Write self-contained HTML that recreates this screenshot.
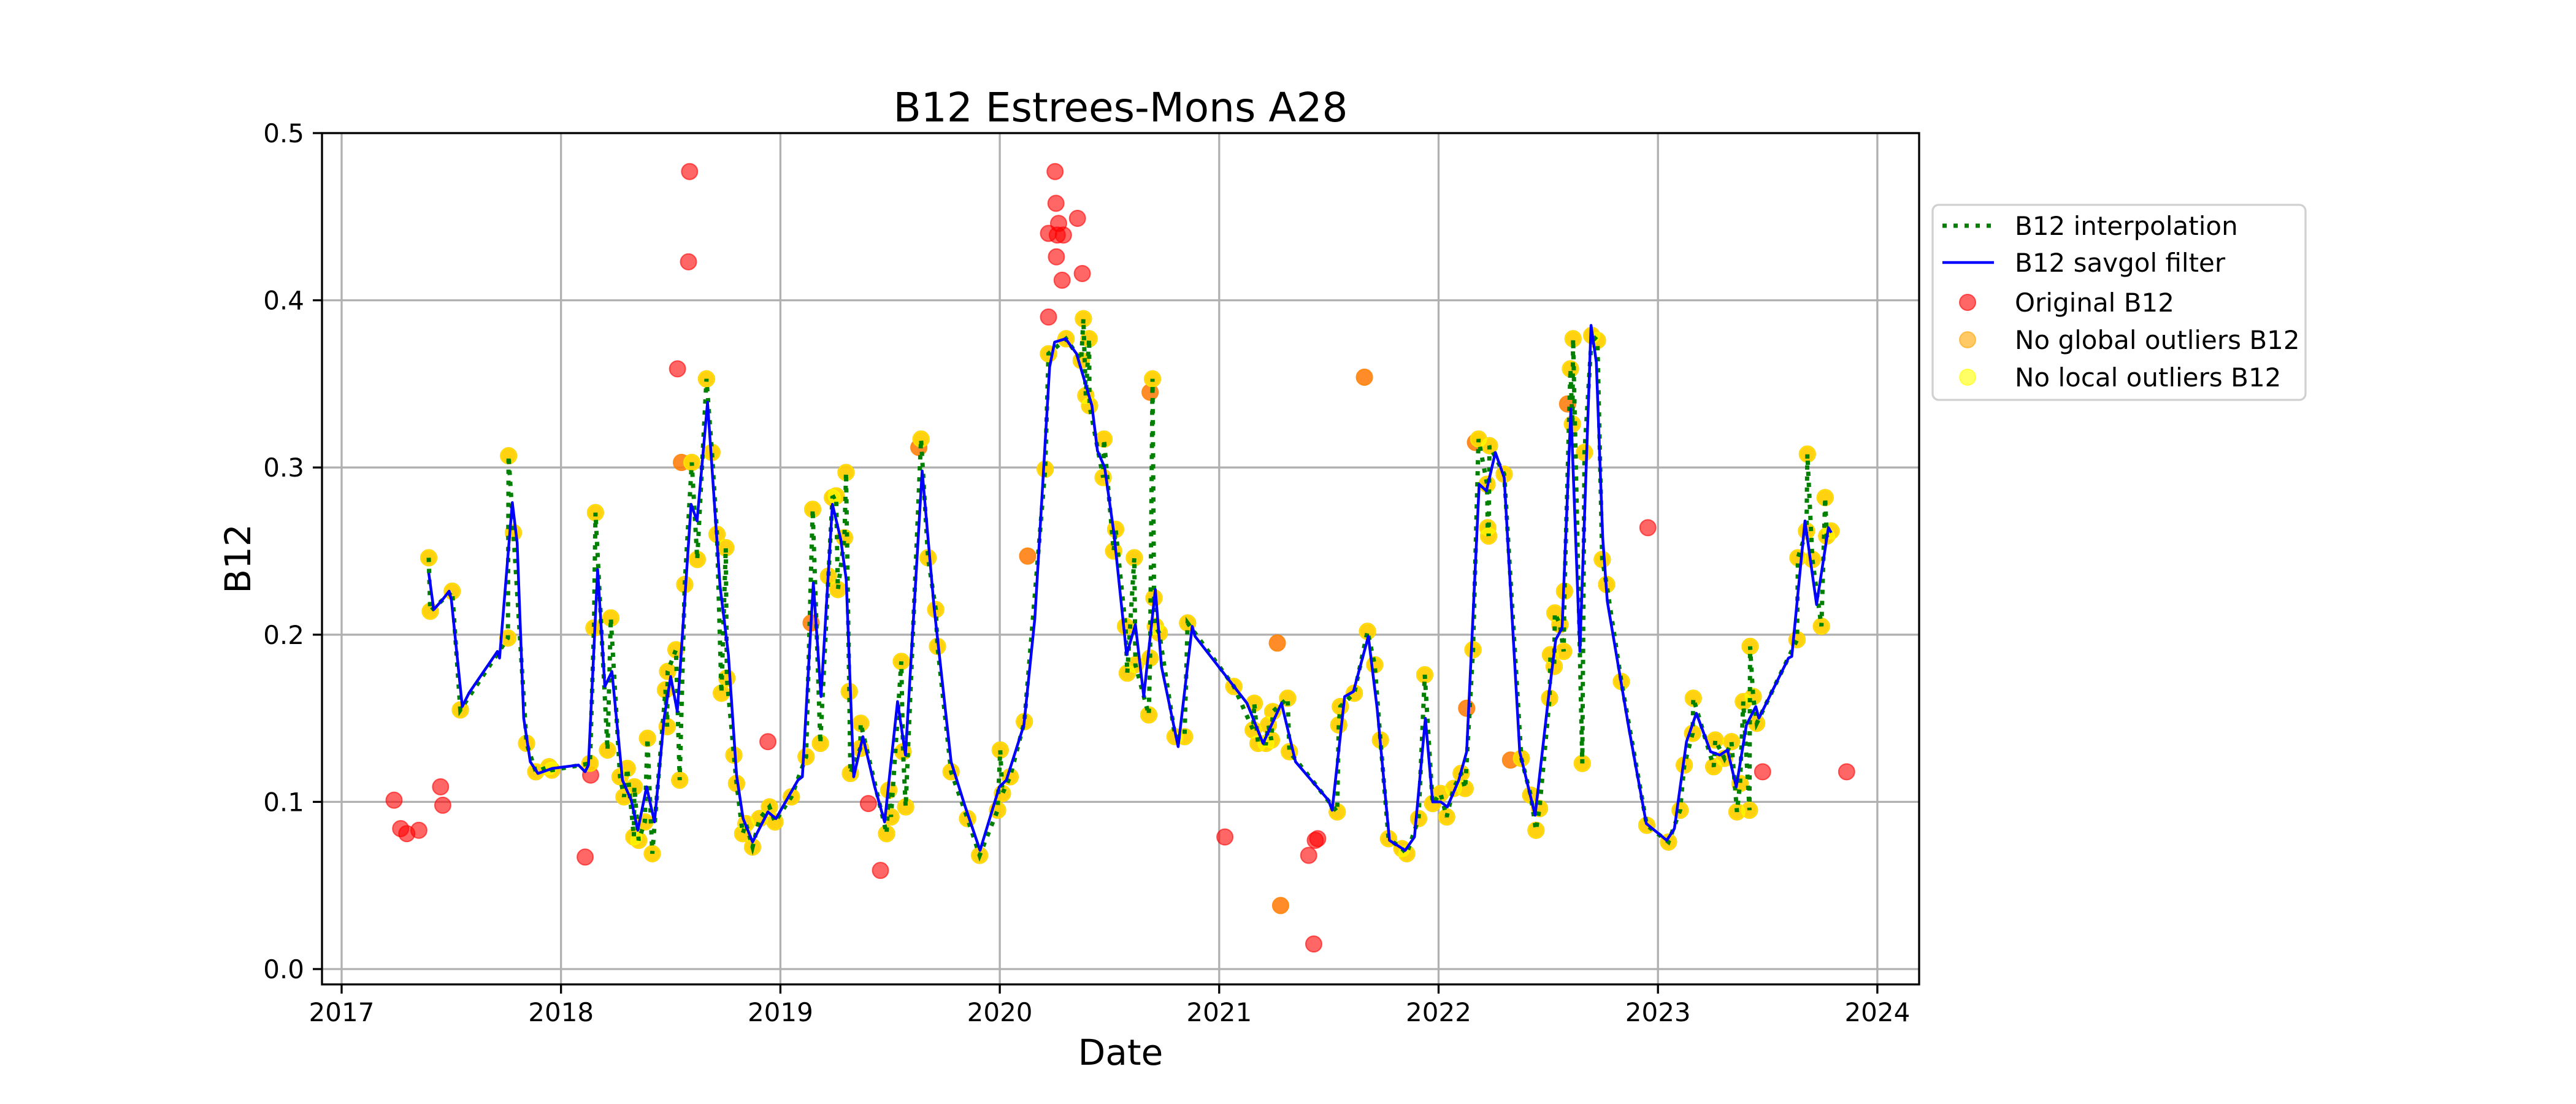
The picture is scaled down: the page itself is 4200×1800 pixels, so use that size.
<!DOCTYPE html>
<html><head><meta charset="utf-8"><style>
html,body{margin:0;padding:0;background:#fff;}
svg{display:block;font-family:"DejaVu Sans","Liberation Sans",sans-serif;}
</style></head><body>
<svg id="chart" width="4200" height="1800" viewBox="0 0 4200 1800" xmlns="http://www.w3.org/2000/svg">
<rect x="0" y="0" width="4200" height="1800" fill="#fff"/>
<g id="grid"></g>
<g id="marks"></g>
<rect x="525" y="217" width="2604" height="1388" fill="none" stroke="#000" stroke-width="3.3"/>
<g id="ticks"></g>
<text x="1827" y="198" font-size="66" text-anchor="middle">B12 Estrees-Mons A28</text>
<text x="1827" y="1736" font-size="58" text-anchor="middle">Date</text>
<text x="0" y="0" font-size="58" text-anchor="middle" transform="translate(408,911) rotate(-90)">B12</text>
<g>
<rect x="3151" y="334" width="608" height="318" rx="10" fill="#fff" fill-opacity="0.8" stroke="#d0d0d0" stroke-width="3.3"/>
<line x1="3167" y1="368" x2="3251" y2="368" stroke="#008000" stroke-width="7" stroke-dasharray="7 11"/>
<text x="3285" y="383" font-size="42">B12 interpolation</text>
<line x1="3167" y1="428" x2="3251" y2="428" stroke="#0000ff" stroke-width="4.5"/>
<text x="3285" y="443" font-size="42">B12 savgol filter</text>
<circle cx="3208" cy="493" r="13" fill="#ff0000" fill-opacity="0.6" stroke="#ff0000" stroke-opacity="0.6" stroke-width="2"/>
<text x="3285" y="508" font-size="42">Original B12</text>
<circle cx="3208" cy="554" r="13" fill="#ffa500" fill-opacity="0.6" stroke="#ffa500" stroke-opacity="0.6" stroke-width="2"/>
<text x="3285" y="569" font-size="42">No global outliers B12</text>
<circle cx="3208" cy="615" r="13" fill="#ffff00" fill-opacity="0.6" stroke="#ffff00" stroke-opacity="0.6" stroke-width="2"/>
<text x="3285" y="630" font-size="42">No local outliers B12</text>
</g>
</svg>
<script>
const xTickLabels = ["2017","2018","2019","2020","2021","2022","2023","2024"];
const yTickLabels = ["0.0","0.1","0.2","0.3","0.4","0.5"];
const yTickValues = [0,0.1,0.2,0.3,0.4,0.5];
// yellow points (no local outliers): [decimal year, value]
const localPts = [[2017.397,0.246],[2017.404,0.214],[2017.504,0.226],[2017.541,0.155],[2017.761,0.307],[2017.758,0.198],[2017.783,0.261],[2017.843,0.135],[2017.885,0.118],[2017.945,0.121],[2017.958,0.119],[2018.132,0.123],[2018.157,0.273],[2018.150,0.204],[2018.227,0.210],[2018.212,0.131],[2018.269,0.115],[2018.302,0.120],[2018.287,0.103],[2018.334,0.109],[2018.332,0.079],[2018.354,0.077],[2018.394,0.138],[2018.382,0.088],[2018.416,0.069],[2018.484,0.145],[2018.476,0.167],[2018.486,0.178],[2018.524,0.191],[2018.541,0.113],[2018.564,0.230],[2018.596,0.303],[2018.621,0.245],[2018.663,0.353],[2018.688,0.309],[2018.711,0.260],[2018.751,0.252],[2018.731,0.165],[2018.756,0.174],[2018.788,0.128],[2018.800,0.111],[2018.828,0.081],[2018.843,0.087],[2018.873,0.073],[2018.905,0.090],[2018.950,0.097],[2018.975,0.088],[2019.050,0.103],[2019.117,0.127],[2019.147,0.275],[2019.182,0.135],[2019.219,0.235],[2019.237,0.282],[2019.254,0.283],[2019.262,0.227],[2019.292,0.258],[2019.299,0.297],[2019.314,0.166],[2019.319,0.117],[2019.364,0.132],[2019.366,0.147],[2019.484,0.081],[2019.494,0.107],[2019.504,0.091],[2019.551,0.184],[2019.559,0.130],[2019.571,0.097],[2019.641,0.317],[2019.673,0.246],[2019.708,0.215],[2019.716,0.193],[2019.778,0.118],[2019.853,0.090],[2019.908,0.068],[2019.990,0.095],[2020.002,0.131],[2020.012,0.105],[2020.047,0.115],[2020.112,0.148],[2020.207,0.299],[2020.222,0.368],[2020.302,0.377],[2020.371,0.364],[2020.381,0.389],[2020.392,0.343],[2020.407,0.377],[2020.409,0.337],[2020.471,0.294],[2020.475,0.317],[2020.519,0.250],[2020.528,0.263],[2020.573,0.205],[2020.581,0.177],[2020.613,0.246],[2020.618,0.182],[2020.679,0.152],[2020.685,0.186],[2020.696,0.353],[2020.703,0.222],[2020.709,0.205],[2020.727,0.201],[2020.799,0.139],[2020.842,0.139],[2020.856,0.207],[2021.067,0.169],[2021.155,0.143],[2021.160,0.159],[2021.177,0.135],[2021.213,0.135],[2021.224,0.146],[2021.238,0.137],[2021.244,0.154],[2021.312,0.162],[2021.320,0.130],[2021.538,0.094],[2021.545,0.146],[2021.552,0.157],[2021.616,0.165],[2021.676,0.202],[2021.709,0.182],[2021.735,0.137],[2021.772,0.078],[2021.833,0.072],[2021.855,0.069],[2021.909,0.090],[2021.937,0.176],[2021.973,0.099],[2022.009,0.105],[2022.037,0.091],[2022.068,0.108],[2022.103,0.117],[2022.121,0.108],[2022.157,0.191],[2022.182,0.317],[2022.221,0.290],[2022.224,0.264],[2022.228,0.259],[2022.232,0.313],[2022.299,0.296],[2022.377,0.126],[2022.420,0.104],[2022.444,0.083],[2022.460,0.096],[2022.506,0.162],[2022.510,0.188],[2022.527,0.181],[2022.530,0.213],[2022.553,0.206],[2022.570,0.190],[2022.574,0.226],[2022.601,0.359],[2022.610,0.326],[2022.613,0.377],[2022.655,0.123],[2022.665,0.309],[2022.698,0.379],[2022.724,0.376],[2022.746,0.245],[2022.766,0.230],[2022.833,0.172],[2022.949,0.086],[2023.048,0.076],[2023.101,0.095],[2023.120,0.122],[2023.158,0.141],[2023.161,0.162],[2023.254,0.121],[2023.261,0.137],[2023.303,0.126],[2023.335,0.136],[2023.360,0.094],[2023.374,0.111],[2023.389,0.160],[2023.417,0.095],[2023.420,0.193],[2023.434,0.163],[2023.450,0.147],[2023.634,0.197],[2023.638,0.246],[2023.677,0.262],[2023.681,0.308],[2023.704,0.245],[2023.745,0.205],[2023.762,0.282],[2023.769,0.259],[2023.789,0.262]];
// orange points (removed as local outliers)
const globalPts = [[2018.549,0.303],[2019.140,0.207],[2019.631,0.312],[2020.127,0.247],[2020.685,0.345],[2021.265,0.195],[2021.280,0.038],[2021.662,0.354],[2022.128,0.156],[2022.168,0.315],[2022.328,0.125],[2022.588,0.338]];
// red points (removed as global outliers)
const origPts = [[2017.239,0.101],[2017.269,0.084],[2017.297,0.081],[2017.352,0.083],[2017.451,0.109],[2017.461,0.098],[2018.110,0.067],[2018.135,0.116],[2018.531,0.359],[2018.581,0.423],[2018.586,0.477],[2018.943,0.136],[2019.401,0.099],[2019.456,0.059],[2020.222,0.390],[2020.252,0.477],[2020.256,0.458],[2020.222,0.440],[2020.268,0.446],[2020.262,0.439],[2020.290,0.439],[2020.258,0.426],[2020.284,0.412],[2020.354,0.449],[2020.376,0.416],[2021.026,0.079],[2021.408,0.068],[2021.438,0.077],[2021.449,0.078],[2021.431,0.015],[2022.954,0.264],[2023.477,0.118],[2023.860,0.118]];
// savgol filter line
const savgolPts = [[2017.397,0.237],[2017.42,0.215],[2017.46,0.221],[2017.49,0.226],[2017.50,0.221],[2017.55,0.157],[2017.58,0.165],[2017.71,0.190],[2017.72,0.186],[2017.778,0.279],[2017.80,0.255],[2017.83,0.150],[2017.86,0.124],[2017.895,0.117],[2017.96,0.120],[2018.08,0.122],[2018.11,0.118],[2018.125,0.122],[2018.167,0.239],[2018.20,0.169],[2018.232,0.178],[2018.28,0.113],[2018.32,0.101],[2018.35,0.083],[2018.39,0.109],[2018.426,0.088],[2018.47,0.150],[2018.50,0.175],[2018.53,0.154],[2018.593,0.278],[2018.62,0.268],[2018.668,0.339],[2018.725,0.229],[2018.763,0.188],[2018.80,0.116],[2018.83,0.090],[2018.873,0.076],[2018.943,0.094],[2018.98,0.090],[2019.08,0.113],[2019.10,0.115],[2019.15,0.231],[2019.185,0.163],[2019.237,0.278],[2019.275,0.257],[2019.30,0.233],[2019.334,0.115],[2019.376,0.139],[2019.43,0.109],[2019.475,0.088],[2019.534,0.160],[2019.57,0.128],[2019.646,0.298],[2019.70,0.217],[2019.778,0.124],[2019.84,0.098],[2019.91,0.071],[2019.998,0.109],[2020.03,0.113],[2020.11,0.146],[2020.16,0.210],[2020.227,0.360],[2020.25,0.375],[2020.30,0.377],[2020.35,0.368],[2020.42,0.337],[2020.445,0.310],[2020.478,0.300],[2020.52,0.261],[2020.578,0.188],[2020.618,0.206],[2020.656,0.163],[2020.709,0.227],[2020.737,0.181],[2020.813,0.133],[2020.877,0.205],[2020.89,0.199],[2021.127,0.159],[2021.20,0.135],[2021.284,0.159],[2021.348,0.124],[2021.498,0.101],[2021.515,0.095],[2021.572,0.163],[2021.612,0.166],[2021.68,0.199],[2021.72,0.156],[2021.776,0.077],[2021.848,0.071],[2021.89,0.079],[2021.94,0.150],[2021.973,0.100],[2022.01,0.100],[2022.04,0.097],[2022.092,0.113],[2022.128,0.130],[2022.185,0.290],[2022.218,0.286],[2022.259,0.309],[2022.299,0.294],[2022.37,0.130],[2022.44,0.092],[2022.498,0.159],[2022.534,0.197],[2022.563,0.204],[2022.603,0.335],[2022.644,0.190],[2022.695,0.385],[2022.719,0.363],[2022.748,0.258],[2022.769,0.220],[2022.869,0.143],[2022.947,0.087],[2023.04,0.077],[2023.075,0.084],[2023.13,0.136],[2023.175,0.153],[2023.24,0.130],[2023.282,0.128],[2023.317,0.131],[2023.357,0.109],[2023.403,0.146],[2023.446,0.157],[2023.46,0.150],[2023.595,0.186],[2023.61,0.187],[2023.67,0.268],[2023.723,0.218],[2023.777,0.264],[2023.79,0.261]];

const NS = "http://www.w3.org/2000/svg";
function xScale(yr){ return 557 + (yr - 2017) * 357.7; }
function yScale(v){ return 1580 - v * 2726; }
const grid = document.getElementById('grid');
const ticks = document.getElementById('ticks');
const marks = document.getElementById('marks');
function mk(tag, attrs, parent){ const e=document.createElementNS(NS,tag); for(const k in attrs) e.setAttribute(k, attrs[k]); parent.appendChild(e); return e; }

xTickLabels.forEach((lab)=>{
  const x = xScale(parseFloat(lab));
  const g = mk('line',{x1:x,y1:217,x2:x,y2:1605,stroke:'#b0b0b0','stroke-width':3.3},grid);
  
  
  const t = mk('line',{x1:x,y1:1605,x2:x,y2:1620,stroke:'#000','stroke-width':3.3},ticks);
  
  
  const tx = mk('text',{x:x,y:1665,'font-size':42,'text-anchor':'middle'},ticks);
  tx.textContent = lab;
  
  
});
yTickValues.forEach((v,i)=>{
  const y = yScale(v);
  const g = mk('line',{x1:525,y1:y,x2:3129,y2:y,stroke:'#b0b0b0','stroke-width':3.3},grid);
  
  
  const t = mk('line',{x1:510,y1:y,x2:525,y2:y,stroke:'#000','stroke-width':3.3},ticks);
  
  
  const tx = mk('text',{x:496,y:y+15,'font-size':42,'text-anchor':'end'},ticks);
  tx.textContent = yTickLabels[i];
  
  
});

function dot(p, color, name){
  const c = mk('circle',{cx:xScale(p[0]),cy:yScale(p[1]),r:13,fill:color,'fill-opacity':0.6,stroke:color,'stroke-opacity':0.6,'stroke-width':2},marks);
  
  
}
origPts.forEach(p=>dot(p,'#ff0000','original-point'));
globalPts.forEach(p=>dot(p,'#ff0000','original-point'));
localPts.forEach(p=>dot(p,'#ff0000','original-point'));
globalPts.forEach(p=>dot(p,'#ffa500','global-point'));
localPts.forEach(p=>dot(p,'#ffa500','global-point'));
localPts.forEach(p=>dot(p,'#ffff00','local-point'));

const sorted = localPts.slice().sort((a,b)=>a[0]-b[0]);
const interp = mk('polyline',{points:sorted.map(p=>xScale(p[0]).toFixed(1)+','+yScale(p[1]).toFixed(1)).join(' '),fill:'none',stroke:'#008000','stroke-width':7,'stroke-dasharray':'7 11'},marks);


const sav = mk('polyline',{points:savgolPts.map(p=>xScale(p[0]).toFixed(1)+','+yScale(p[1]).toFixed(1)).join(' '),fill:'none',stroke:'#0000ff','stroke-width':4.5,'stroke-linejoin':'round'},marks);


</script>
</body></html>
